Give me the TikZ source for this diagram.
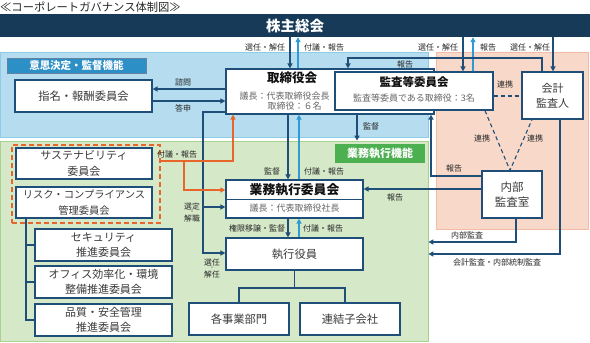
\documentclass[tikz,border=0pt]{standalone}
\usepackage{fontspec}
\setmainfont{Noto Sans CJK JP}
\usetikzlibrary{arrows.meta,calc}
\definecolor{navy}{HTML}{1F4E79}
\definecolor{barnavy}{HTML}{163A57}
\definecolor{lblue}{HTML}{2E9AD6}
\definecolor{orng}{HTML}{E8662C}
\definecolor{bluepanel}{HTML}{B5DDEF}
\definecolor{bluepaneledge}{HTML}{8FCAE6}
\definecolor{greenpanel}{HTML}{D5E8C8}
\definecolor{greenedge}{HTML}{A9D18E}
\definecolor{orpanel}{HTML}{F8D9C9}
\definecolor{oredge}{HTML}{F2BBA3}
\definecolor{bluelabel}{HTML}{2C8FC6}
\definecolor{greenlabel}{HTML}{4CAF50}
\definecolor{txt}{HTML}{3A3A3A}
\definecolor{lbltxt}{HTML}{262626}
\definecolor{subtxt}{HTML}{666666}
\definecolor{head}{HTML}{111111}
\begin{document}
\begin{tikzpicture}[x=1pt,y=-1pt,
  box/.style={draw=navy, line width=1.2pt, fill=white, inner sep=0pt, align=center, text=txt, font=\fontsize{11}{15.5}\selectfont},
  panel/.style={line width=0.8pt, inner sep=0pt},
  arrD/.style={draw=navy, line width=1.3pt, -{Triangle[length=5pt,width=5pt]}},
  lineD/.style={draw=navy, line width=1.3pt},
  arrL/.style={draw=lblue, line width=1.3pt, -{Triangle[length=5pt,width=5pt]}},
  arrO/.style={draw=orng, line width=1.3pt, -{Triangle[length=5pt,width=5pt]}},
  dashlink/.style={draw=navy, line width=1.1pt, dash pattern=on 4pt off 3pt},
  lbl/.style={font=\fontsize{8}{9}\selectfont, text=lbltxt, inner sep=0pt},
  headtxt/.style={inner sep=0pt, text=head, font=\bfseries\fontsize{12.5}{14}\selectfont},
  subtext/.style={inner sep=0pt, text=subtxt, font=\fontsize{9}{10}\selectfont}]
\useasboundingbox (0,0) rectangle (590,343);

% panels
\node[panel, fill=bluepanel, draw=bluepaneledge, minimum width=428pt, minimum height=85pt] (pblue) at (214,94.5) {};
\node[panel, fill=greenpanel, draw=greenedge, minimum width=428pt, minimum height=200pt] (pgreen) at (214,241) {};
\node[panel, fill=orpanel, draw=oredge, minimum width=152pt, minimum height=177pt] (porange) at (512,140.5) {};

% title and bar
\node[anchor=west, inner sep=0pt, font=\fontsize{11.3}{12}\selectfont, text=lbltxt] (title) at (0,7) {≪コーポレートガバナンス体制図≫};
\node[fill=barnavy, minimum width=590pt, minimum height=23pt, inner sep=0pt, text=white, font=\bfseries\fontsize{14.5}{16}\selectfont] (bar) at (295,25.5) {株主総会};

% panel labels
\node[fill=bluelabel, draw=navy!70, line width=0.6pt, minimum width=139pt, minimum height=15pt, inner sep=0pt, text=white, font=\bfseries\fontsize{10.5}{12}\selectfont] (lbblue) at (76.5,65.5) {意思決定・監督機能};
\node[fill=greenlabel, minimum width=90pt, minimum height=19pt, inner sep=0pt, text=white, font=\bfseries\fontsize{11}{12}\selectfont] (lbgreen) at (380,153.5) {業務執行機能};

% boxes
\node[box, minimum width=137pt, minimum height=32pt, font=\fontsize{11.3}{13}\selectfont] (shimei) at (83.5,96) {指名・報酬委員会};
\node[box, minimum width=208pt, minimum height=45pt] (tori) at (330,91.5) {};
\node[box, minimum width=158pt, minimum height=38pt] (kansa) at (414,91) {};
\node[box, minimum width=61pt, minimum height=47pt, font=\fontsize{11}{15}\selectfont] (kaikei) at (552.5,95.5) {会計\\監査人};
\node[box, minimum width=60pt, minimum height=47pt, font=\fontsize{11.5}{15}\selectfont] (naibu) at (512,194.5) {内部\\監査室};
\node[box, minimum width=137pt, minimum height=38pt] (gyomu) at (294.5,199) {};
\node[box, minimum width=137pt, minimum height=32pt, font=\fontsize{11.3}{13}\selectfont] (shikko) at (294.5,254) {執行役員};
\node[box, minimum width=100pt, minimum height=32pt, font=\fontsize{11.3}{13}\selectfont] (kaku) at (239,319) {各事業部門};
\node[box, minimum width=100pt, minimum height=32pt, font=\fontsize{11.3}{13}\selectfont] (renketsu) at (350,319) {連結子会社};
\node[box, minimum width=136pt, minimum height=31pt] (sus) at (84,163.5) {サステナビリティ\\委員会};
\node[box, minimum width=136pt, minimum height=31pt, font=\fontsize{10.3}{15.5}\selectfont] (risk) at (84,202.5) {リスク・コンプライアンス\\管理委員会};
\node[draw=orng, line width=1.2pt, dash pattern=on 5pt off 3pt, minimum width=148pt, minimum height=78pt, inner sep=0pt] (odash) at (86,184) {};
\node[box, minimum width=137pt, minimum height=32pt] (sec) at (103.5,245) {セキュリティ\\推進委員会};
\node[box, minimum width=137pt, minimum height=32pt] (office) at (103.5,282) {オフィス効率化・環境\\整備推進委員会};
\node[box, minimum width=137pt, minimum height=32pt] (hin) at (103.5,320) {品質・安全管理\\推進委員会};

% box texts
\node[headtxt] (toriT) at (292,78) {取締役会};
\node[subtext] (toriS1) at (284.5,96) {議長：代表取締役会長};
\node[subtext] (toriS2) at (294.5,106.5) {取締役：６名};
\node[headtxt, font=\bfseries\fontsize{11.5}{13}\selectfont] (kansaT) at (414,82) {監査等委員会};
\node[subtext] (kansaS) at (414,98) {監査等委員である取締役：3名};
\draw[draw=navy, line width=1pt] (gyomu.west) -- (gyomu.east);
\node[headtxt, font=\bfseries\fontsize{12.8}{14}\selectfont] (gyomuT) at (294.5,190) {業務執行委員会};
\node[subtext] (gyomuS) at (294.5,208.5) {議長：代表取締役社長};

% helper coordinates
\coordinate (xA) at (290,0); \coordinate (xB) at (298,0);
\coordinate (xC) at (463,0); \coordinate (xD) at (473,0);
\coordinate (xE) at (553,0); \coordinate (xF1) at (542,0);
\coordinate (xF2) at (348,0); \coordinate (yF) at (0,58);
\coordinate (yG) at (0,89); \coordinate (yH) at (0,101);
\coordinate (xI) at (203,0); \coordinate (yI1) at (0,112);
\coordinate (yI2) at (0,207); \coordinate (yI3) at (0,253);
\coordinate (xJ) at (288,0); \coordinate (xK) at (299,0);
\coordinate (xL) at (357,0);
\coordinate (jO) at (294.5,288); \coordinate (xO) at (345,0);
\coordinate (yP) at (0,161); \coordinate (xP1) at (233,0);
\coordinate (xP2) at (184,0); \coordinate (yP2) at (0,190);
\coordinate (xQ) at (26,0);
\coordinate (yR) at (0,189); \coordinate (yS) at (0,176); \coordinate (xS) at (431,0);
\coordinate (xT) at (516,0); \coordinate (yT) at (0,242);
\coordinate (xU) at (560,0); \coordinate (yU) at (0,254);
\coordinate (yV) at (0,96); \coordinate (xV1) at (485,0);
\coordinate (xV2) at (532,0); \coordinate (xV3) at (510,0);

% top connectors
\draw[arrD] (bar.south -| xA) -- (tori.north -| xA);
\draw[arrL] (tori.north -| xB) -- (bar.south -| xB);
\draw[arrD] (bar.south -| xC) -- (kansa.north -| xC);
\draw[arrL] (kansa.north -| xD) -- (bar.south -| xD);
\draw[arrD] (bar.south -| xE) -- (kaikei.north -| xE);
\draw[arrD] (kaikei.north -| xF1) -- (xF1 |- yF) -- (xF2 |- yF) -- (tori.north -| xF2);
\node[lbl] (lA) at (265,47) {選任・解任};
\node[lbl] (lB) at (324,47) {付議・報告};
\node[lbl] (lC) at (438,47) {選任・解任};
\node[lbl] (lD) at (488,47) {報告};
\node[lbl] (lE) at (530,47) {選任・解任};
\node[lbl] (lF) at (405,64) {報告};

% nomination committee
\draw[arrD] (tori.west |- yG) -- (shimei.east |- yG);
\draw[arrD] (shimei.east |- yH) -- (tori.west |- yH);
\node[lbl] (lG) at (183,82) {諮問};
\node[lbl] (lH) at (183,108.5) {答申};

% appointment line
\draw[arrD] (tori.west |- yI1) -- (xI |- yI1) -- (xI |- yI3) -- (shikko.west |- yI3);
\draw[arrD] (xI |- yI2) -- (gyomu.west |- yI2);
\node[lbl, align=center, font=\fontsize{7.8}{12.5}\selectfont] (lI1) at (192,212.5) {選定\\解職};
\node[lbl, font=\fontsize{5}{5}\selectfont] (lI1d) at (192,212.5) {・};
\node[lbl, align=center, font=\fontsize{7.8}{11.5}\selectfont] (lI2) at (212,268.5) {選任\\解任};
\node[lbl, font=\fontsize{5}{5}\selectfont] (lI2d) at (212,268.5) {・};

% board <-> executive committee
\draw[arrD] (tori.south -| xJ) -- (gyomu.north -| xJ);
\draw[arrL] (gyomu.north -| xK) -- (tori.south -| xK);
\draw[arrD] (tori.south -| xL) -- (xL |- pgreen.north);
\node[lbl] (lJ) at (272,171) {監督};
\node[lbl] (lK) at (324,171) {付議・報告};
\node[lbl] (lL) at (371,126) {監督};

% executive committee <-> officers
\draw[arrD] (gyomu.south -| xJ) -- (shikko.north -| xJ);
\draw[arrL] (shikko.north -| xK) -- (gyomu.south -| xK);
\node[lbl] (lM) at (257,228) {権限移譲・監督};
\node[lbl] (lN) at (323,228) {付議・報告};

% officers -> divisions
\draw[lineD] (shikko.south) -- (jO);
\draw[lineD] (kaku.north) |- (jO) -| (xO |- renketsu.north);

% orange
\draw[arrO] (odash.east |- yP) -- (xP1 |- yP) -- (tori.south -| xP1);
\draw[arrO] (xP2 |- yP) -- (xP2 |- yP2) -- (gyomu.west |- yP2);
\node[lbl] (lP) at (177,154) {付議・報告};

% committee tree
\draw[lineD] (risk.south -| xQ) |- (hin.west);
\draw[lineD] (xQ |- sec.west) -- (sec.west);
\draw[lineD] (xQ |- office.west) -- (office.west);

% internal audit
\draw[arrD] (naibu.west |- yR) -- (gyomu.east |- yR);
\draw[arrD] (naibu.west |- yS) -- (xS |- yS) -- (tori.south -| xS);
\draw[arrD] (naibu.south -| xT) -- (xT |- yT) -- (pgreen.east |- yT);
\draw[arrD] (kaikei.south -| xU) -- (xU |- yU) -- (pgreen.east |- yU);
\node[lbl] (lR) at (395,197) {報告};
\node[lbl] (lS) at (454,168) {報告};
\node[lbl] (lT) at (467,235) {内部監査};
\node[lbl] (lU) at (497,262) {会計監査・内部統制監査};

% cooperation
\draw[dashlink] (kansa.east |- yV) -- (kaikei.west |- yV);
\draw[dashlink] (kansa.south -| xV1) -- (naibu.north -| xV3) -- (kaikei.south -| xV2);
\node[lbl] (lV1) at (505,84) {連携};
\node[lbl] (lV2) at (482,138) {連携};
\node[lbl] (lV3) at (535,138) {連携};
\end{tikzpicture}
\end{document}
